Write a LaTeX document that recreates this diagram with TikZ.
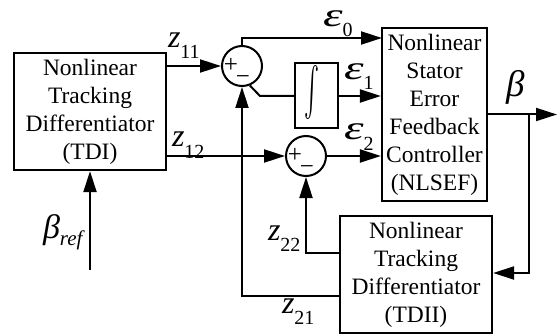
\documentclass[tikz,border=0pt]{standalone}
\usepackage{fontspec}
\setmainfont{Liberation Serif}
\usetikzlibrary{arrows.meta}
\newcommand{\symlbl}[2]{{\fontsize{32}{32}\selectfont\itshape #1}\raisebox{-11pt}{\fontsize{20}{20}\selectfont #2}}
\newcommand{\epslbl}[1]{{\fontsize{32}{32}\selectfont\itshape\scalebox{1.55}[1.05]{ε}}\raisebox{-10pt}{\fontsize{20}{20}\selectfont #1}}
\begin{document}
\begin{tikzpicture}[x=1pt,y=-1pt,line width=2pt,
  blk/.style={draw,line width=2.2pt,align=center,font=\fontsize{23.5}{28}\selectfont,inner sep=0pt},
  sumc/.style={draw,circle,minimum size=40pt,inner sep=0pt},
  arr/.style={-{Triangle[length=21pt,width=13pt]}},
  lbl/.style={inner sep=0pt,anchor=base west},
  sgn/.style={inner sep=0pt,font=\fontsize{25}{25}\selectfont}]
\useasboundingbox (0,0) rectangle (557,334);
% blocks
\node[blk,minimum width=152pt,minimum height=117pt] (tdi) at (90,111.5) {Nonlinear\\Tracking\\Differentiator\\(TDI)};
\node[blk,minimum width=105pt,minimum height=173pt] (nl) at (434.5,114.5) {Nonlinear\\Stator\\Error\\Feedback\\Controller\\(NLSEF)};
\node[blk,minimum width=152pt,minimum height=117pt] (tdii) at (416,274.5) {Nonlinear\\Tracking\\Differentiator\\(TDII)};
\node[blk,minimum width=43pt,minimum height=65pt] (integ) at (316.5,95.5) {};
\node[inner sep=0pt] (intsym) at (312,93) {\resizebox*{15pt}{54pt}{$\int$}};
% summing junctions
\node[sumc] (s1) at (242,66) {};
\node[sumc] (s2) at (306,156) {};
\node[sgn] (p1) at ([shift={(-11,-1)}]s1.center) {+};
\node[sgn] (m1) at ([shift={(1,14)}]s1.center) {−};
\node[sgn] (p2) at ([shift={(-11,-1)}]s2.center) {+};
\node[sgn] (m2) at ([shift={(1,14)}]s2.center) {−};
% helper coordinates
\coordinate (e0) at (382,38);
\coordinate (k1) at (260,96);
\coordinate (bout) at (557,114.5);
\coordinate (br) at (529,114.5);
\coordinate (fb) at (529,273);
\coordinate (bref) at (90,270);
% connectors
\draw[arr] (tdi.east |- s1) -- (s1.west);
\draw[arr] (tdi.east |- s2) -- (s2.west);
\draw[arr] (s1.north) |- (e0);
\draw (s1.-68) -- (k1) -- (integ.west |- k1);
\draw[arr] (integ.east |- k1) -- (nl.west |- k1);
\draw[arr] (s2.east) -- (nl.west |- s2.east);
\draw[arr] (nl.east) -- (bout);
\draw[arr] (br) -- (fb) -- (tdii.east |- fb);
\draw[arr] ([shift={(0,21.5)}]tdii.west) -| (s1.south);
\draw[arr] ([shift={(0,-21.5)}]tdii.west) -| (s2.south);
\draw[arr] (bref) -- (tdi.south);
% labels
\node[lbl] (lz11) at (167,48) {\symlbl{z}{11}};
\node[lbl] (lz12) at (171,147) {\symlbl{z}{12}};
\node[lbl] (lz22) at (267,240) {\symlbl{z}{22}};
\node[lbl] (lz21) at (281,313) {\symlbl{z}{21}};
\node[lbl] (le0) at (322,27) {\epslbl{0}};
\node[lbl] (le1) at (343,80) {\epslbl{1}};
\node[lbl] (le2) at (343,140) {\epslbl{2}};
\node[lbl] (lb) at (505,97) {{\fontsize{37}{37}\selectfont\itshape β}};
\node[lbl] (lbr) at (42,238) {{\fontsize{34}{34}\selectfont\itshape β}\raisebox{-7pt}{\fontsize{21}{21}\selectfont\itshape ref}};
\end{tikzpicture}
\end{document}
